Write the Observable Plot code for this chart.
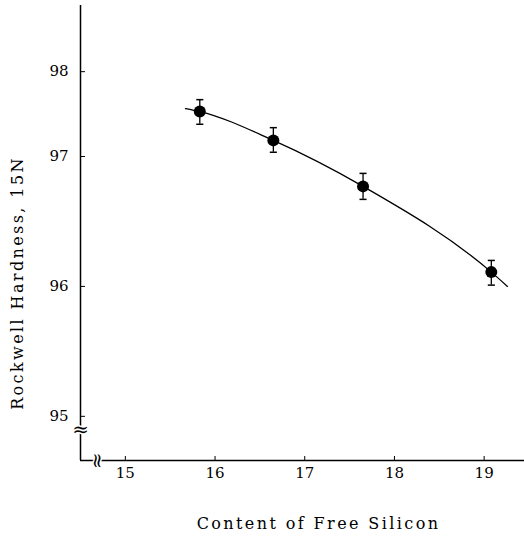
<!DOCTYPE html>
<html><head><meta charset="utf-8">
<script src="https://cdn.jsdelivr.net/npm/d3@7"></script>
<script src="https://cdn.jsdelivr.net/npm/@observablehq/plot@0.6"></script>
<style>
body{margin:0;background:#fff}
.spaced-title text{letter-spacing:2.4px}
</style>
</head><body><div id="chart"></div>
<script>
const silicon = [15.83, 16.65, 17.65, 19.08];
const hardness = [97.53, 97.19, 96.77, 96.11];
const hardnessLow = [97.38, 97.05, 96.67, 96.01];
const hardnessHigh = [97.67, 97.34, 96.87, 96.20];
const fitSilicon = [15.67, 15.83, 16.65, 17.65, 19.08, 19.26];
const fitHardness = [97.565, 97.53, 97.19, 96.77, 96.11, 96.0];
const xTicks = [15, 16, 17, 18, 19];
const yTicks = [95, 96, 97, 98];
const xTitle = "Content of Free Silicon";
const yTitle = "Rockwell Hardness, 15N";
const xDomain = [14.5, 19.45];
const yDomain = [94.66, 97, 98.78];
const yBreak = [{x: 14.5, y: 94.9}];
const xBreak = [{x: 14.69, y: 94.66}];

const points = silicon.map((x, i) => ({x, y: hardness[i], lo: hardnessLow[i], hi: hardnessHigh[i]}));
const fit = fitSilicon.map((x, i) => ({x, y: fitHardness[i]}));

const cap = {draw(ctx, size) { const w = Math.sqrt(size); ctx.moveTo(-w, 0); ctx.lineTo(w, 0); }};

const chart = Plot.plot({
  width: 524, height: 539,
  marginLeft: 80, marginRight: 0, marginTop: 5, marginBottom: 79,
  style: {fontFamily: "'DejaVu Serif', serif", fontSize: "15px", background: "white", color: "black"},
  x: {domain: xDomain},
  y: {type: "linear", domain: yDomain, range: [460, 156, 5]},
  marks: [
    Plot.axisX({ticks: xTicks, tickSize: -4, tickPadding: 11, label: null, tickFormat: d => String(d)}),
    Plot.axisY({ticks: yTicks, tickSize: -5, tickPadding: 17, label: null, tickFormat: d => String(d)}),
    Plot.ruleX([xDomain[0]], {stroke: "black", strokeWidth: 1.5}),
    Plot.ruleY([yDomain[0]], {stroke: "black", strokeWidth: 1.5}),
    Plot.line(fit, {x: "x", y: "y", curve: "monotone-x", stroke: "black", strokeWidth: 1.3}),
    Plot.ruleX(points, {x: "x", y1: "lo", y2: "hi", stroke: "black", strokeWidth: 1.3}),
    Plot.dot(points, {x: "x", y: "lo", symbol: cap, r: 2, stroke: "black", strokeWidth: 1.5}),
    Plot.dot(points, {x: "x", y: "hi", symbol: cap, r: 2, stroke: "black", strokeWidth: 1.5}),
    Plot.dot(points, {x: "x", y: "y", r: 6, fill: "black"}),
    Plot.text(yBreak, {x: "x", y: "y", text: () => "≈", fontSize: 20, fill: "black", stroke: "white", strokeWidth: 3}),
    Plot.text(xBreak, {x: "x", y: "y", text: () => "≈", rotate: 90, fontSize: 20, fill: "black", stroke: "white", strokeWidth: 3}),
    Plot.text([yTitle], {frameAnchor: "left", text: d => d, rotate: -90, textAnchor: "middle", lineAnchor: "middle", dx: -63, dy: 50, fontSize: 16, className: "spaced-title"}),
    Plot.text([xTitle], {frameAnchor: "bottom", text: d => d, textAnchor: "middle", lineAnchor: "middle", dx: 16, dy: 63, fontSize: 16, className: "spaced-title"})
  ]
});
document.getElementById("chart").append(chart);
</script>
</body></html>
